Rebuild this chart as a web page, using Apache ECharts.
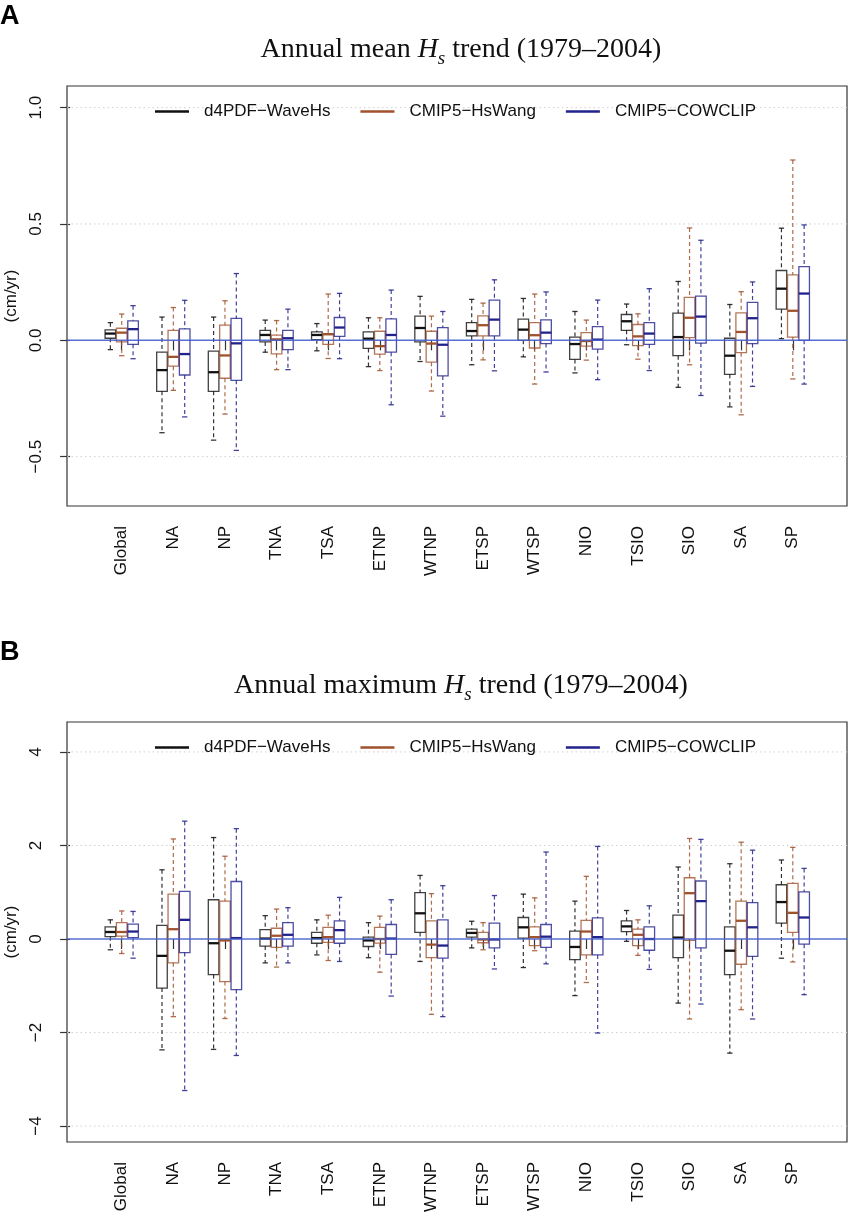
<!DOCTYPE html>
<html>
<head>
<meta charset="utf-8">
<script src="https://cdn.jsdelivr.net/npm/echarts@6/dist/echarts.min.js"></script>
<style>
html,body{margin:0;padding:0;background:#fff;}
#chart{width:848px;height:1216px;}
</style>
</head>
<body>
<div id="chart"></div>
<script>
// ---------------- DATA ----------------
const categories = ['Global','NA','NP','TNA','TSA','ETNP','WTNP','ETSP','WTSP','NIO','TSIO','SIO','SA','SP'];
const modelNames = ['d4PDF\u2212WaveHs','CMIP5\u2212HsWang','CMIP5\u2212COWCLIP'];

// Panel A: annual mean Hs trend (cm/yr) — [lower whisker, Q1, median, Q3, upper whisker]
const meanD4PDF = [
  [-0.040,0.009,0.029,0.045,0.076],
  [-0.397,-0.219,-0.128,-0.051,0.100],
  [-0.429,-0.219,-0.137,-0.046,0.100],
  [-0.051,-0.007,0.023,0.043,0.087],
  [-0.045,0.003,0.023,0.036,0.072],
  [-0.113,-0.035,0.007,0.036,0.097],
  [-0.091,-0.007,0.053,0.104,0.189],
  [-0.105,0.019,0.040,0.076,0.176],
  [-0.071,0.000,0.046,0.091,0.180],
  [-0.140,-0.082,-0.016,0.014,0.124],
  [-0.019,0.043,0.082,0.111,0.156],
  [-0.202,-0.066,0.014,0.117,0.253],
  [-0.286,-0.146,-0.066,0.009,0.154],
  [0.007,0.134,0.222,0.300,0.482]
];
const meanHsWang = [
  [-0.066,-0.007,0.033,0.052,0.113],
  [-0.215,-0.111,-0.071,0.043,0.141],
  [-0.317,-0.163,-0.065,0.065,0.170],
  [-0.126,-0.058,0.004,0.022,0.085],
  [-0.078,-0.017,0.026,0.029,0.199],
  [-0.130,-0.059,-0.025,0.039,0.097],
  [-0.218,-0.094,-0.014,0.039,0.104],
  [-0.084,0.019,0.065,0.105,0.160],
  [-0.188,-0.033,0.022,0.076,0.199],
  [-0.085,-0.025,-0.003,0.033,0.087],
  [-0.081,-0.023,0.017,0.068,0.114],
  [-0.105,0.012,0.097,0.185,0.483],
  [-0.320,-0.053,0.036,0.118,0.209],
  [-0.166,0.014,0.127,0.281,0.775]
];
const meanCOWCLIP = [
  [-0.079,-0.017,0.048,0.084,0.149],
  [-0.329,-0.149,-0.059,0.049,0.172],
  [-0.473,-0.172,-0.013,0.094,0.287],
  [-0.126,-0.040,0.009,0.043,0.134],
  [-0.079,0.017,0.055,0.098,0.202],
  [-0.277,-0.051,0.023,0.092,0.216],
  [-0.326,-0.153,-0.019,0.055,0.124],
  [-0.131,0.019,0.089,0.173,0.260],
  [-0.136,-0.014,0.033,0.088,0.208],
  [-0.169,-0.038,0.003,0.059,0.173],
  [-0.130,-0.017,0.029,0.076,0.222],
  [-0.237,-0.012,0.102,0.190,0.430],
  [-0.198,-0.014,0.095,0.163,0.251],
  [-0.188,0.000,0.201,0.317,0.496]
];

// Panel B: annual maximum Hs trend (cm/yr)
const maxD4PDF = [
  [-0.23,0.05,0.15,0.26,0.41],
  [-2.37,-1.05,-0.36,0.29,1.48],
  [-2.36,-0.76,-0.09,0.84,2.17],
  [-0.51,-0.15,0.01,0.20,0.50],
  [-0.34,-0.09,0.02,0.14,0.41],
  [-0.40,-0.16,-0.03,0.04,0.35],
  [-0.48,0.14,0.55,0.99,1.36],
  [-0.19,0.04,0.13,0.21,0.38],
  [-0.61,0.02,0.25,0.46,0.96],
  [-1.21,-0.44,-0.17,0.17,0.81],
  [-0.05,0.16,0.27,0.39,0.61],
  [-1.37,-0.40,0.03,0.51,1.54],
  [-2.44,-0.76,-0.25,0.26,1.61],
  [-0.41,0.34,0.79,1.16,1.69]
];
const maxHsWang = [
  [-0.31,0.06,0.15,0.35,0.60],
  [-1.66,-0.51,0.21,0.96,2.14],
  [-1.70,-0.91,-0.03,0.81,1.77],
  [-0.60,-0.18,0.07,0.23,0.64],
  [-0.46,-0.07,0.04,0.25,0.51],
  [-0.71,-0.09,0.00,0.25,0.49],
  [-1.61,-0.40,-0.12,0.39,0.97],
  [-0.23,-0.08,-0.01,0.14,0.35],
  [-0.25,-0.14,0.04,0.26,0.88],
  [-0.93,-0.34,0.16,0.40,1.34],
  [-0.35,-0.14,0.09,0.21,0.41],
  [-1.71,-0.03,0.98,1.31,2.15],
  [-1.51,-0.54,0.39,0.81,2.07],
  [-0.49,0.14,0.56,1.19,1.96]
];
const maxCOWCLIP = [
  [-0.41,0.03,0.16,0.32,0.59],
  [-3.24,-0.29,0.41,1.02,2.52],
  [-2.49,-1.08,0.02,1.23,2.36],
  [-0.51,-0.15,0.09,0.35,0.67],
  [-0.48,-0.09,0.19,0.39,0.89],
  [-1.22,-0.33,0.01,0.31,0.84],
  [-1.66,-0.41,-0.14,0.41,1.14],
  [-0.64,-0.19,-0.01,0.34,0.93],
  [-0.53,-0.18,0.05,0.31,1.86],
  [-2.01,-0.34,0.04,0.45,1.98],
  [-0.65,-0.24,0.00,0.26,0.71],
  [-1.39,-0.19,0.81,1.24,2.13],
  [-1.71,-0.37,0.25,0.78,1.90],
  [-1.19,-0.11,0.46,1.01,1.51]
];

// Tick values and labels
const meanTicks = [-0.5, 0, 0.5, 1.0];
const meanTickLabels = ['\u22120.5','0.0','0.5','1.0'];
const maxTicks = [-4, -2, 0, 2, 4];
const maxTickLabels = ['\u22124','\u22122','0','2','4'];
const titles = ['Annual mean', 'Annual maximum'];

// ---------------- STYLE / LAYOUT ----------------
const COLORS = ['#111111', '#a0522d', '#22228c'];
const OFFSETS = [-0.22, 0, 0.22];
const BOX_W = 0.205;
const SANS = '"Liberation Sans", Arial, sans-serif';
const SERIF = '"Liberation Serif", "Times New Roman", serif';
const GRID_LEFT = 67, GRID_W = 780, GRID_H = 420;
const GRID_TOPS = [86, 722];
const X_MIN = -0.06, X_MAX = 15.05;
const Y_RANGES = [[-0.712, 1.093], [-4.34, 4.64]];
const catPositions = categories.map((c, i) => i + 1);

function boxRenderer(offset, color) {
  return function (params, api) {
    const xc = api.value(0) + offset;
    const lo = api.value(1), q1 = api.value(2), med = api.value(3), q3 = api.value(4), hi = api.value(5);
    const px = api.coord([xc, 0])[0];
    const bw = api.size([BOX_W, 0])[0];
    const Y = v => api.coord([xc, v])[1];
    const hw = bw / 2, cw = bw / 4;
    const dash = { stroke: color, lineWidth: 1.2, lineDash: [4, 3], opacity: 0.85 };
    const solid = { stroke: color, lineWidth: 1.3, opacity: 0.85 };
    return {
      type: 'group',
      children: [
        { type: 'line', shape: { x1: px, y1: Y(hi), x2: px, y2: Y(q3) }, style: dash },
        { type: 'line', shape: { x1: px, y1: Y(q1), x2: px, y2: Y(lo) }, style: dash },
        { type: 'line', shape: { x1: px - cw, y1: Y(hi), x2: px + cw, y2: Y(hi) }, style: solid },
        { type: 'line', shape: { x1: px - cw, y1: Y(lo), x2: px + cw, y2: Y(lo) }, style: solid },
        { type: 'rect', shape: { x: px - hw, y: Y(q3), width: bw, height: Y(q1) - Y(q3) },
          style: { fill: 'none', stroke: color, lineWidth: 1.3, opacity: 0.8 } },
        { type: 'line', shape: { x1: px - hw, y1: Y(med), x2: px + hw, y2: Y(med) },
          style: { stroke: color, lineWidth: 2.3 } }
      ]
    };
  };
}

function hLineRenderer(style) {
  return function (params, api) {
    const cs = params.coordSys;
    const y = api.coord([api.value(0), api.value(1)])[1];
    return { type: 'line', shape: { x1: cs.x, y1: y, x2: cs.x + cs.width, y2: y }, style: style };
  };
}

const panels = [
  { data: [meanD4PDF, meanHsWang, meanCOWCLIP], ticks: meanTicks, labels: meanTickLabels },
  { data: [maxD4PDF, maxHsWang, maxCOWCLIP], ticks: maxTicks, labels: maxTickLabels }
];

const grid = [], xAxis = [], yAxis = [], series = [], legend = [], title = [], graphic = [];

panels.forEach((p, gi) => {
  grid.push({ left: GRID_LEFT, top: GRID_TOPS[gi], width: GRID_W, height: GRID_H,
    containLabel: false, outerBoundsMode: 'none',
    show: true, borderColor: '#333', borderWidth: 1.2, backgroundColor: 'transparent' });
  xAxis.push({
    type: 'value', gridIndex: gi, min: X_MIN, max: X_MAX,
    axisLine: { show: false }, splitLine: { show: false },
    axisTick: { show: true, customValues: catPositions, length: 10, lineStyle: { color: '#333', width: 1.2 } },
    axisLabel: { customValues: catPositions, rotate: 90, margin: 20, fontSize: 17, color: '#111', fontFamily: SANS,
      formatter: v => categories[Math.round(v) - 1] || '' }
  });
  yAxis.push({
    type: 'value', gridIndex: gi, min: Y_RANGES[gi][0], max: Y_RANGES[gi][1],
    axisLine: { show: false }, splitLine: { show: false },
    axisTick: { show: true, customValues: p.ticks, length: 10, lineStyle: { color: '#333', width: 1.2 } },
    axisLabel: { customValues: p.ticks, rotate: 90, margin: 22, fontSize: 17, color: '#111', fontFamily: SANS,
      formatter: v => { const k = p.ticks.findIndex(t => Math.abs(t - v) < 1e-9); return k >= 0 ? p.labels[k] : ''; } },
    name: '(cm/yr)', nameLocation: 'middle', nameRotate: 90, nameGap: 47,
    nameTextStyle: { fontSize: 17, color: '#111', fontFamily: SANS }
  });
  // dotted grid lines at ticks (except zero)
  series.push({
    type: 'custom', xAxisIndex: gi, yAxisIndex: gi, silent: true, z: 1,
    data: p.ticks.filter(t => t !== 0).map(t => [1, t]),
    encode: { x: 0, y: 1 },
    renderItem: hLineRenderer({ stroke: '#cfcfcf', lineWidth: 1, lineDash: [1.5, 3] })
  });
  p.data.forEach((vals, mi) => {
    series.push({
      type: 'custom', name: modelNames[mi], xAxisIndex: gi, yAxisIndex: gi, z: 2,
      itemStyle: { color: COLORS[mi] },
      data: vals.map((v, i) => [catPositions[i]].concat(v)),
      encode: { x: 0, y: [1, 2, 3, 4, 5] },
      renderItem: boxRenderer(OFFSETS[mi], COLORS[mi])
    });
  });
  // zero reference line
  series.push({
    type: 'custom', xAxisIndex: gi, yAxisIndex: gi, silent: true, z: 5,
    data: [[1, 0]],
    encode: { x: 0, y: 1 },
    renderItem: hLineRenderer({ stroke: 'rgba(70,95,205,0.9)', lineWidth: 1.5 })
  });
  legend.push({
    data: modelNames, left: 150, top: GRID_TOPS[gi] + 12, orient: 'horizontal',
    itemWidth: 34, itemHeight: 2.5, itemGap: 30, icon: 'rect', selectedMode: false,
    textStyle: { fontSize: 17, color: '#111', fontFamily: SANS, padding: [0, 0, 0, 10] }
  });
  title.push({
    text: '{n|' + titles[gi] + ' }{h|H}{s|s}{n| trend (1979\u20132004)}',
    left: 456, top: GRID_TOPS[gi] - 59, textAlign: 'center',
    textStyle: {
      fontWeight: 'normal',
      rich: {
        n: { fontFamily: SERIF, fontSize: 28, fontWeight: 'normal', color: '#111', lineHeight: 36 },
        h: { fontFamily: SERIF, fontSize: 28, fontWeight: 'normal', color: '#111', fontStyle: 'italic', lineHeight: 36 },
        s: { fontFamily: SERIF, fontSize: 19, fontWeight: 'normal', color: '#111', fontStyle: 'italic', lineHeight: 21, verticalAlign: 'bottom' }
      }
    }
  });
  graphic.push({
    type: 'text', left: 0, top: GRID_TOPS[gi] - 83,
    style: { text: gi === 0 ? 'A' : 'B', font: 'bold 27px ' + SANS, fill: '#000' }
  });
});

const chart = echarts.init(document.getElementById('chart'), null, { renderer: 'canvas' });
chart.setOption({
  animation: false,
  backgroundColor: '#fff',
  title, legend, grid, xAxis, yAxis, series, graphic
});
</script>
</body>
</html>
